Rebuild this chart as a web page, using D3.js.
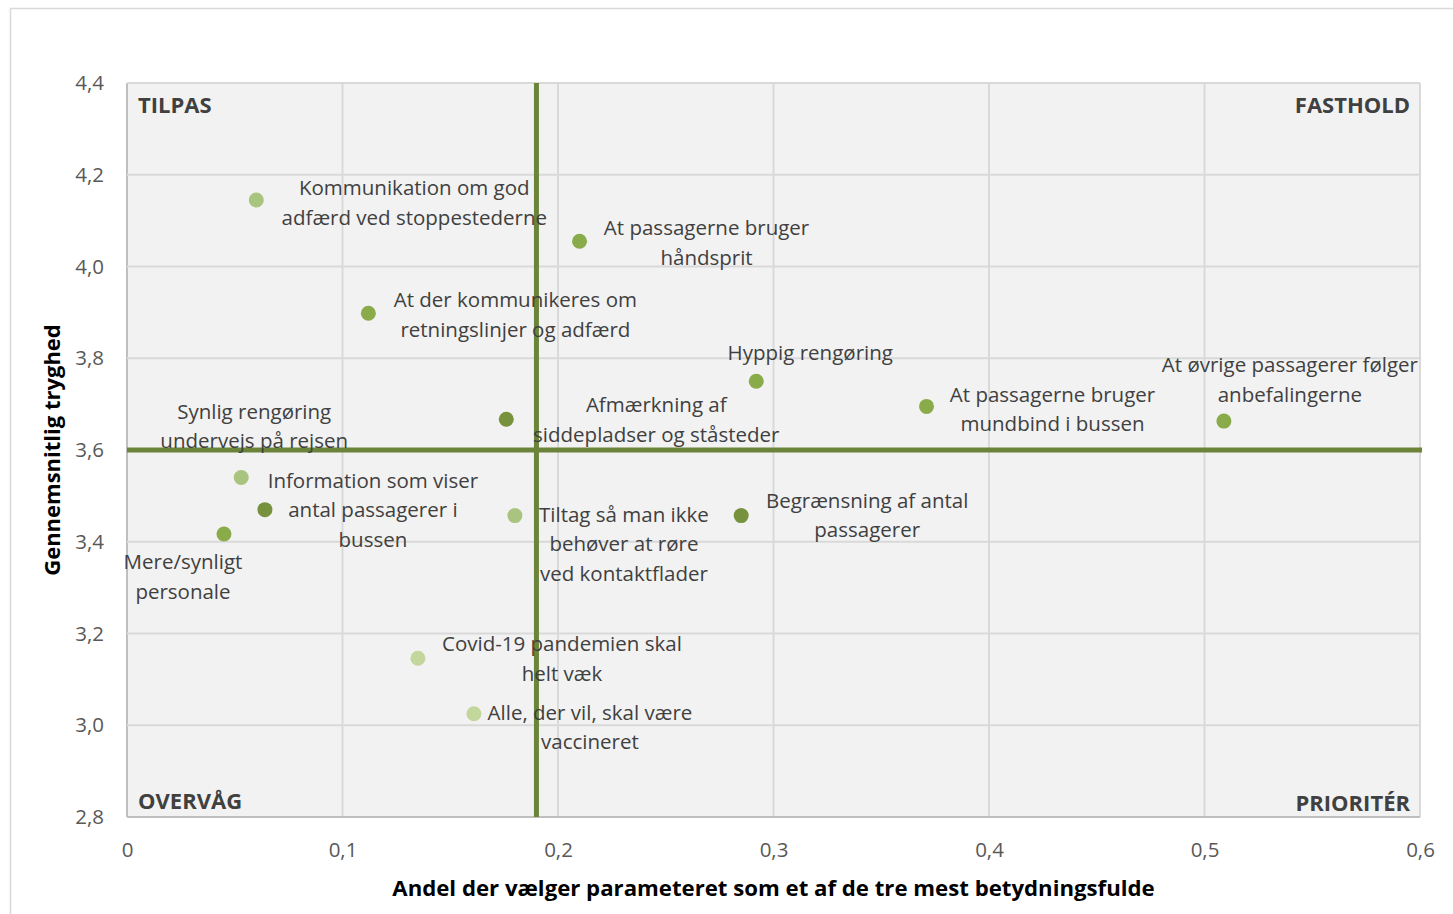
<!DOCTYPE html>
<html><head><meta charset="utf-8">
<script src="https://cdn.jsdelivr.net/npm/d3@7"></script>
<style>body{margin:0;background:#fff}svg{display:block}</style>
</head><body>
<script>
// ---- data ----
const labels = [
  ["Kommunikation om god","adfærd ved stoppestederne"],
  ["At passagerne bruger","håndsprit"],
  ["At der kommunikeres om","retningslinjer og adfærd"],
  ["Hyppig rengøring"],
  ["Afmærkning af","siddepladser og ståsteder"],
  ["At passagerne bruger","mundbind i bussen"],
  ["At øvrige passagerer følger","anbefalingerne"],
  ["Synlig rengøring","undervejs på rejsen"],
  ["Information som viser","antal passagerer i","bussen"],
  ["Mere/synligt","personale"],
  ["Tiltag så man ikke","behøver at røre","ved kontaktflader"],
  ["Begrænsning af antal","passagerer"],
  ["Covid-19 pandemien skal","helt væk"],
  ["Alle, der vil, skal være","vaccineret"]
];
const xValues = [0.060, 0.210, 0.112, 0.292, 0.176, 0.371, 0.509, 0.053, 0.064, 0.045, 0.180, 0.285, 0.135, 0.161];
const yValues = [4.145, 4.055, 3.898, 3.750, 3.667, 3.695, 3.663, 3.540, 3.470, 3.417, 3.457, 3.457, 3.146, 3.025];
const shade   = [1, 2, 2, 2, 3, 2, 2, 1, 3, 2, 1, 3, 0, 0];
const xTicks = [0, 0.1, 0.2, 0.3, 0.4, 0.5, 0.6];
const yTicks = [2.8, 3.0, 3.2, 3.4, 3.6, 3.8, 4.0, 4.2, 4.4];
const xSplit = 0.19, ySplit = 3.6;
const quadrants = ["TILPAS", "FASTHOLD", "OVERVÅG", "PRIORITÉR"];
const xTitle = "Andel der vælger parameteret som et af de tre mest betydningsfulde";
const yTitle = "Gennemsnitlig tryghed";

// ---- layout / style ----
const palette = ["#c3d69b", "#a9c47f", "#8aab4a", "#76923c"];
const labelOffsets = [[158,-12],[127,-13],[147,-13],[54,-28],[150,-14],[126,-12],[66,-56],[13,-66],[108,-29],[-41,28],[109,-1],[126,-15],[144,-14],[116,-1]];
const W = 1453, H = 914;
const L = 127, R = 1420, T = 83, B = 817;
const font = "'Open Sans', sans-serif";

const svg = d3.select("body").append("svg").attr("width", W).attr("height", H);
svg.append("rect").attr("x",10.5).attr("y",8.5).attr("width",1460).attr("height",1000)
  .attr("fill","#fff").attr("stroke","#d9d9d9").attr("stroke-width",1.5);

const x = d3.scaleLinear().domain([0,0.6]).range([L,R]);
const y = d3.scaleLinear().domain([2.8,4.4]).range([B,T]);

svg.append("rect").attr("x",L).attr("y",T).attr("width",R-L).attr("height",B-T).attr("fill","#f2f2f2");

const fmt = d => d3.format(d===0?"d":".1f")(d).replace(".",",");

// gridlines
svg.append("g").selectAll("line").data(xTicks).join("line")
  .attr("x1",d=>x(d)).attr("x2",d=>x(d)).attr("y1",T).attr("y2",B)
  .attr("stroke",(d,i)=>i===0?"#bfbfbf":"#d9d9d9").attr("stroke-width",2);
svg.append("g").selectAll("line").data(yTicks).join("line")
  .attr("y1",d=>y(d)).attr("y2",d=>y(d)).attr("x1",L).attr("x2",R)
  .attr("stroke",(d,i)=>i===0?"#bfbfbf":"#d9d9d9").attr("stroke-width",2);

// axes (labels only) via d3 axes
const gx = svg.append("g").attr("transform",`translate(0,${B})`)
  .call(d3.axisBottom(x).tickValues(xTicks).tickFormat(fmt).tickSize(0).tickPadding(25));
gx.select(".domain").remove();
gx.selectAll("text").attr("font-family",font).attr("font-size",20.5).attr("fill","#595959");
const gy = svg.append("g").attr("transform",`translate(${L},0)`)
  .call(d3.axisLeft(y).tickValues(yTicks).tickFormat(fmt).tickSize(0).tickPadding(23));
gy.select(".domain").remove();
gy.selectAll("text").attr("font-family",font).attr("font-size",20.5).attr("fill","#595959");

// quadrant lines
svg.append("line").attr("x1",x(xSplit)).attr("x2",x(xSplit)).attr("y1",T).attr("y2",B)
  .attr("stroke","#6b843a").attr("stroke-width",5);
svg.append("line").attr("x1",L).attr("x2",R+2).attr("y1",y(ySplit)).attr("y2",y(ySplit))
  .attr("stroke","#6b843a").attr("stroke-width",5);

// quadrant titles
const qpos = [[L+11,T+30,"start"],[R-10,T+30,"end"],[L+11,B-8,"start"],[R-10,B-6,"end"]];
svg.append("g").selectAll("text").data(quadrants).join("text")
  .attr("x",(d,i)=>qpos[i][0]).attr("y",(d,i)=>qpos[i][1]).attr("text-anchor",(d,i)=>qpos[i][2])
  .attr("font-family",font).attr("font-size",22).attr("font-weight","bold").attr("fill","#404040")
  .text(d=>d);

// points
svg.append("g").selectAll("circle").data(xValues).join("circle")
  .attr("cx",(d)=>x(d)).attr("cy",(d,i)=>y(yValues[i])).attr("r",7.5)
  .attr("fill",(d,i)=>palette[shade[i]]);

// data labels
const lg = svg.append("g");
labels.forEach((lines,i)=>{
  const cx = x(xValues[i]) + labelOffsets[i][0];
  const cy = y(yValues[i]) + labelOffsets[i][1];
  const t = lg.append("text").attr("text-anchor","middle").attr("font-family",font)
    .attr("font-size",20.5).attr("fill","#404040");
  lines.forEach((ln,j)=>{
    t.append("tspan").attr("x",cx).attr("y",cy + j*29.5).attr("dy","0.35em").text(ln);
  });
});

// axis titles
svg.append("text").attr("x",(L+R)/2).attr("y",888).attr("dy","0.35em").attr("text-anchor","middle")
  .attr("font-family",font).attr("font-size",22.2).attr("font-weight","bold").attr("fill","#000").text(xTitle);
svg.append("text").attr("transform",`translate(52,${(T+B)/2}) rotate(-90)`).attr("dy","0.35em")
  .attr("text-anchor","middle").attr("font-family",font).attr("font-size",22).attr("font-weight","bold")
  .attr("fill","#000").text(yTitle);
</script>
</body></html>
